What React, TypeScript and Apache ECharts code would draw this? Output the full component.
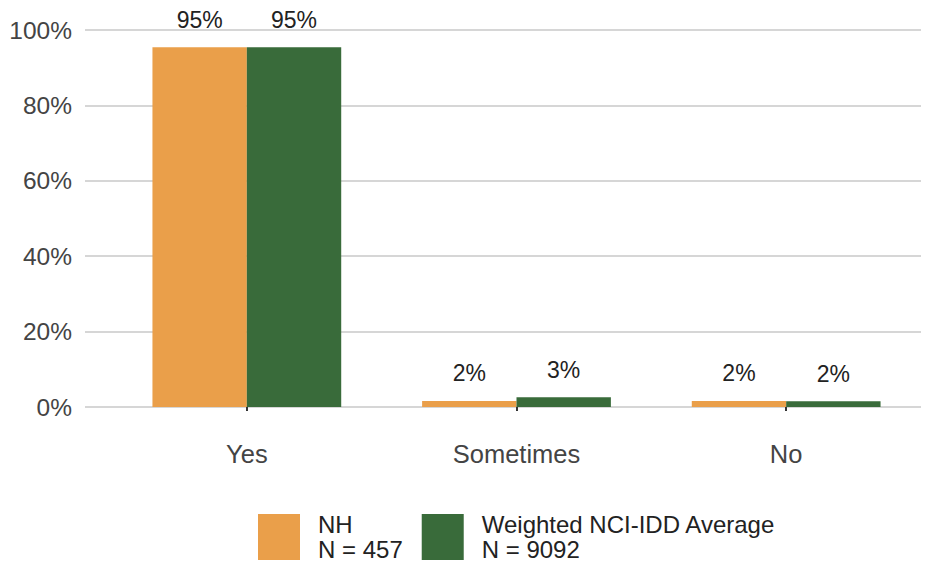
import React, { useEffect, useRef } from "react";
import * as echarts from "echarts";

const categories = ["Yes", "Sometimes", "No"];
const seriesNames = ["NH", "Weighted NCI-IDD Average"];
const seriesN = [457, 9092];
const nhValues = [95.4, 1.6, 1.6];
const avgValues = [95.4, 2.6, 1.5];
const colors = ["#EA9F4A", "#396B3A"];
const yTicks = [0, 20, 40, 60, 80, 100];

export default function App() {
  const ref = useRef<HTMLDivElement>(null);
  useEffect(() => {
    if (!ref.current) return;
    const chart = echarts.init(ref.current, null, { renderer: "svg" });
    const font = "Arial, 'Liberation Sans', sans-serif";
    const labelCfg = {
      show: true,
      position: "top",
      distance: 16,
      fontSize: 23,
      fontFamily: font,
      color: "#222",
      formatter: (p: any) => `${Math.round(p.value)}%`,
    };
    chart.setOption({
      animation: false,
      backgroundColor: "#fff",
      grid: { left: 112, right: 15, top: 30, bottom: 158, containLabel: false },
      xAxis: {
        type: "category",
        data: categories,
        offset: 21,
        axisLine: { show: true, lineStyle: { color: "rgba(0,0,0,0)" } },
        axisTick: { show: true, length: 4, alignWithLabel: true, lineStyle: { color: "#333", width: 2 } },
        axisLabel: { fontSize: 25.5, fontFamily: font, color: "#444", margin: 13 },
      },
      yAxis: {
        type: "value",
        min: yTicks[0],
        max: yTicks[yTicks.length - 1],
        interval: 20,
        axisLine: { show: false },
        axisTick: { show: true, length: 27, lineStyle: { color: "#c8c8c8", width: 1.5 } },
        splitLine: { show: true, lineStyle: { color: "#c8c8c8", width: 1.5 } },
        axisLabel: { fontSize: 24.5, fontFamily: font, color: "#444", margin: 40, formatter: "{value}%" },
      },
      legend: {
        left: 258,
        top: 512,
        padding: 0,
        itemWidth: 42,
        itemHeight: 46,
        itemGap: 19,
        icon: "rect",
        formatter: (name: string) => `${name}\nN = ${seriesN[seriesNames.indexOf(name)]}`,
        textStyle: { fontSize: 24, fontFamily: font, color: "#222", lineHeight: 25, padding: [0, 0, 0, 13] },
      },
      series: [
        {
          name: seriesNames[0],
          type: "bar",
          data: nhValues,
          itemStyle: { color: colors[0] },
          barGap: "0%",
          barCategoryGap: "30%",
          label: labelCfg,
        },
        {
          name: seriesNames[1],
          type: "bar",
          data: avgValues,
          itemStyle: { color: colors[1] },
          barGap: "0%",
          barCategoryGap: "30%",
          label: labelCfg,
        },
      ],
    });
    return () => chart.dispose();
  }, []);
  return (
    <div style={{ position: "fixed", left: 0, top: 0, width: 936, height: 565, background: "#fff" }}>
      <div ref={ref} style={{ width: 936, height: 565 }} />
    </div>
  );
}
